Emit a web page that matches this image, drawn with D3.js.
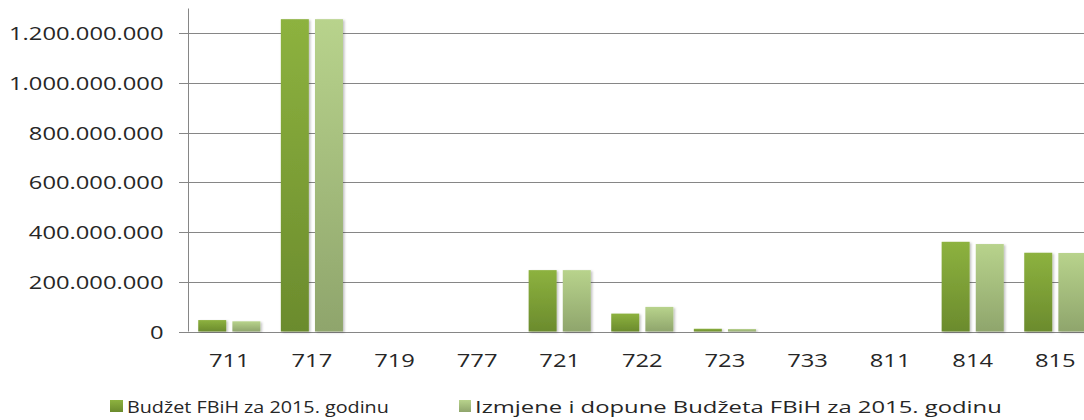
<!DOCTYPE html>
<html>
<head>
<meta charset="utf-8">
<script src="https://cdn.jsdelivr.net/npm/d3@7"></script>
<style>
  body { margin: 0; background: #fff; }
  text { font-family: "Open Sans", sans-serif; fill: #262626; }
</style>
</head>
<body>
<div id="chart"></div>
<script>
// Data
const categories = ["711", "717", "719", "777", "721", "722", "723", "733", "811", "814", "815"];
const seriesNames = ["Budžet FBiH za 2015. godinu", "Izmjene i dopune Budžeta FBiH za 2015. godinu"];
const budzet = [46e6, 1257e6, 0, 0, 247e6, 72e6, 11e6, 0, 0, 361e6, 317e6];
const izmjene = [41e6, 1257e6, 0, 0, 247e6, 99e6, 10e6, 0, 0, 352e6, 316e6];
const yTicks = [0, 200e6, 400e6, 600e6, 800e6, 1000e6, 1200e6];

const width = 1084, height = 420;
const stretch = 1.32; // text in the picture is widened

const svg = d3.select("#chart").append("svg")
  .attr("width", width)
  .attr("height", height);

// gradients for the bars
const defs = svg.append("defs");
const grads = [
  {id: "g0", top: "#8db23f", bottom: "#6b8b2d"},
  {id: "g1", top: "#b8d38c", bottom: "#8fa56c"}
];
grads.forEach(g => {
  const lg = defs.append("linearGradient").attr("id", g.id)
    .attr("x1", 0).attr("y1", 0).attr("x2", 0).attr("y2", 1);
  lg.append("stop").attr("offset", "0%").attr("stop-color", g.top);
  lg.append("stop").attr("offset", "100%").attr("stop-color", g.bottom);
});
const shadow = defs.append("filter").attr("id", "shadow")
  .attr("x", "-20%").attr("y", "-5%").attr("width", "150%").attr("height", "115%");
shadow.append("feDropShadow").attr("dx", 1.5).attr("dy", 1).attr("stdDeviation", 1.2)
  .attr("flood-color", "#000").attr("flood-opacity", 0.25);

// scales
const x0 = 188;
const step = 82.6;
const x = d3.scaleBand()
  .domain(categories)
  .range([x0, x0 + step * categories.length]);

const xSub = d3.scaleBand()
  .domain([0, 1])
  .range([0, x.bandwidth()])
  .paddingInner(0.18)
  .paddingOuter(0.3);

const y = d3.scaleLinear()
  .domain([0, 1300e6])
  .range([331.5, 8.5]);

const fmt = v => d3.format(",")(v).replace(/,/g, ".");

// gridlines
svg.append("g")
  .selectAll("line")
  .data(yTicks)
  .join("line")
  .attr("x1", 179)
  .attr("x2", width)
  .attr("y1", d => Math.round(y(d)) + 0.5)
  .attr("y2", d => Math.round(y(d)) + 0.5)
  .attr("stroke", "#868686")
  .attr("stroke-width", 1);

// y axis (tick groups carry the y position already)
const yAxis = svg.append("g")
  .attr("transform", `translate(${x0 + 0.5},0)`)
  .call(d3.axisLeft(y).tickValues(yTicks).tickFormat(fmt).tickSize(0));
yAxis.select(".domain").remove();
yAxis.selectAll("text")
  .attr("x", 0)
  .attr("y", 0)
  .attr("dy", null)
  .attr("transform", `translate(-25,6.5) scale(${stretch},1)`)
  .style("font-size", "18px")
  .style("fill", "#262626");

svg.append("line")
  .attr("x1", x0 + 0.5).attr("x2", x0 + 0.5)
  .attr("y1", y(1300e6)).attr("y2", y(0))
  .attr("stroke", "#868686");

// bars
const series = [budzet, izmjene];
series.forEach((vals, s) => {
  svg.append("g")
    .selectAll("rect")
    .data(vals.map((v, i) => ({cat: categories[i], v})))
    .join("rect")
    .filter(d => d.v > 0)
    .attr("x", d => x(d.cat) + xSub(s))
    .attr("width", xSub.bandwidth())
    .attr("y", d => y(d.v))
    .attr("height", d => y(0) - y(d.v))
    .attr("fill", `url(#g${s})`)
    .attr("filter", "url(#shadow)");
});

// x labels
svg.append("g")
  .selectAll("text")
  .data(categories)
  .join("text")
  .attr("text-anchor", "middle")
  .attr("transform", d => `translate(${x(d) + x.bandwidth() / 2},367) scale(${stretch},1)`)
  .style("font-size", "18px")
  .text(d => d);

// legend
const legend = [
  {name: seriesNames[0], sx: 110, tx: 127, len: 262, fill: "url(#g0)"},
  {name: seriesNames[1], sx: 459, tx: 475, len: 527, fill: "url(#g1)"}
];
const lg = svg.append("g").selectAll("g").data(legend).join("g");
lg.append("rect")
  .attr("x", d => d.sx)
  .attr("y", 400)
  .attr("width", d => d.tx - d.sx - 4)
  .attr("height", 12)
  .attr("fill", d => d.fill);
lg.append("text")
  .style("font-size", "17px")
  .text(d => d.name)
  .attr("transform", function(d) {
    const w = this.getComputedTextLength();
    return `translate(${d.tx},413) scale(${d.len / w},1)`;
  });
</script>
</body>
</html>
